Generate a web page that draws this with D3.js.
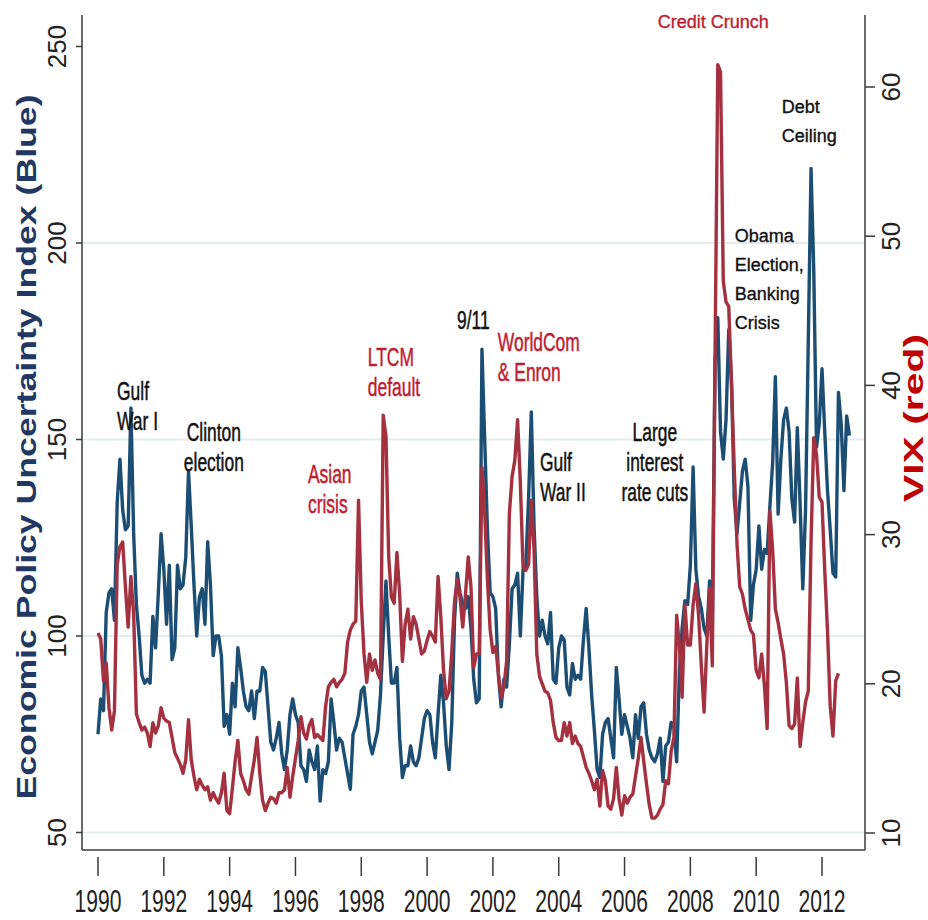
<!DOCTYPE html>
<html>
<head>
<meta charset="utf-8">
<script src="https://cdn.jsdelivr.net/npm/d3@7"></script>
<style>
  body { margin: 0; background: #fff; }
  svg text { font-family: "Liberation Sans", Arial, sans-serif; }
</style>
</head>
<body>
<div id="chart"></div>
<script>
// monthly series starting January 1990
const startYear = 1990;

const epu = [
  75, 84, 81, 106, 111, 112, 104, 134, 145, 132, 127, 128,
  158, 126, 108, 100, 90, 88, 89, 88, 105, 97, 111, 126,
  117, 103, 118, 94, 97, 118, 112, 113, 120, 142, 128, 113,
  100, 110, 112, 103, 124, 113, 95, 100, 100, 95, 77, 80,
  75, 88, 82, 97, 92, 86, 82, 81, 86, 79, 86, 86,
  92, 91, 82, 73, 71, 74, 78, 70, 66, 71, 80, 84,
  80, 78, 67, 66, 63, 71, 68, 66, 72, 58, 66, 65,
  68, 84, 78, 71, 74, 73, 69, 65, 61, 75, 77, 80,
  86, 87, 80, 73, 70, 73, 76, 85, 100, 114, 100, 88,
  88, 92, 74, 64, 67, 67, 72, 68, 67, 69, 74, 79,
  81, 80, 73, 69, 80, 90, 83, 72, 66, 78, 104, 116,
  111, 108, 107, 110, 102, 89, 83, 84, 173, 150, 127, 111,
  110, 107, 90, 82, 89, 87, 98, 112, 113, 116, 100, 117,
  118, 135, 157, 128, 110, 100, 104, 100, 98, 106, 89, 88,
  97, 100, 99, 87, 85, 93, 89, 90, 89, 99, 107, 97,
  85, 76, 66, 64, 75, 78, 79, 74, 69, 92, 84, 75,
  80, 77, 74, 69, 80, 74, 82, 83, 75, 71, 69, 68,
  70, 74, 63, 72, 73, 78, 77, 68, 91, 102, 109, 108,
  118, 143, 117, 110, 107, 102, 100, 114, 104, 170, 181, 152,
  145, 155, 178, 165, 135, 126, 134, 142, 145, 138, 104, 113,
  117, 128, 117, 122, 121, 133, 144, 166, 131, 145, 155, 158,
  152, 135, 129, 153, 134, 112, 132, 175, 219, 193, 148, 154,
  168, 152, 137, 127, 116, 115, 162, 154, 137, 156, 151
];

const vix = [
  23.4, 23.0, 20.2, 21.4, 18.4, 16.9, 18.2, 28.0, 29.2, 29.5, 26.5, 23.8,
  27.2, 24.7, 18.0, 17.4, 16.9, 17.1, 16.7, 15.8, 17.4, 16.7, 17.2, 18.4,
  17.7, 17.5, 17.4, 16.4, 15.4, 15.0, 14.6, 14.0, 14.9, 17.6, 14.9, 13.8,
  12.9, 13.6, 13.2, 12.9, 13.1, 12.2, 12.7, 12.3, 12.0, 12.7, 14.0, 11.5,
  11.3, 13.0, 14.8, 16.2, 14.0, 13.5, 12.9, 12.6, 13.8, 14.9, 16.4, 14.0,
  12.2, 11.5, 12.0, 12.4, 12.3, 12.0, 12.7, 12.7, 12.9, 14.4, 12.4, 13.8,
  15.0, 16.2, 17.8, 16.7, 16.3, 17.2, 17.6, 16.4, 16.6, 16.4, 16.2, 18.5,
  19.8, 20.1, 20.3, 19.8, 20.1, 20.3, 20.7, 22.8, 23.6, 24.0, 24.2, 32.3,
  25.5, 22.0, 20.1, 22.0, 20.9, 21.6, 20.7, 20.3, 38.0, 36.6, 28.5, 25.8,
  25.4, 28.8, 26.0, 21.5, 24.0, 25.0, 23.0, 24.5, 24.0, 23.0, 22.0, 22.2,
  22.9, 23.5, 23.2, 22.8, 27.2, 24.5, 20.9, 19.0, 19.5, 22.1, 25.5, 27.0,
  25.8, 23.8, 26.0, 28.5, 26.5, 21.1, 22.0, 22.0, 34.5, 31.5, 27.0, 23.6,
  22.1, 22.5, 20.7, 19.1, 19.8, 21.5, 31.4, 33.9, 35.0, 37.7, 33.5, 27.8,
  27.6, 28.0, 32.3, 29.0, 22.0, 20.5, 20.0, 19.5, 19.4, 18.9, 17.4, 16.4,
  16.2, 16.2, 17.4, 16.5, 17.4, 16.0, 16.5, 16.0, 15.8, 15.1, 14.4, 14.0,
  13.5, 12.9, 13.6, 11.8, 14.2, 13.5, 11.8, 11.6, 12.3, 14.4, 12.3, 11.2,
  12.5, 12.0, 12.4, 12.6, 13.8, 15.0, 16.4, 14.8, 13.3, 11.9, 11.0, 11.0,
  11.2, 11.6, 11.9, 13.5, 13.3, 15.5, 16.4, 24.6, 22.6, 19.1, 25.3, 22.6,
  22.6, 25.3, 26.7, 24.6, 21.2, 18.1, 22.6, 26.4, 21.2, 42.0, 61.5, 61.0,
  47.0, 45.6, 45.3, 40.0, 34.5, 29.4, 26.5, 26.0, 25.0, 24.3, 23.6, 23.3,
  20.9, 20.4, 22.0, 19.9, 17.0, 31.6, 29.0, 25.0, 24.1, 23.0, 22.0, 20.1,
  17.2, 17.0, 17.3, 20.4, 15.8, 17.4, 18.8, 19.5, 29.5, 36.5, 35.4, 32.5,
  32.2, 27.6, 23.6, 18.5, 16.5, 20.2, 20.7
];

const yearTicks = [1990, 1992, 1994, 1996, 1998, 2000, 2002, 2004, 2006, 2008, 2010, 2012];
const epuTicks = [50, 100, 150, 200, 250];
const vixTicks = [10, 20, 30, 40, 50, 60];
const gridTicks = [50, 100, 150, 200];

// annotation text, anchored at (year, EPU value)
const notes = [
  { lines: ["Gulf", "War I"], year: 1990.58, value: 160, kind: "narrow", color: "#111", anchor: "start" },
  { lines: ["Clinton", "election"], year: 1993.52, value: 149.6, kind: "narrow", color: "#111", anchor: "middle" },
  { lines: ["Asian", "crisis"], year: 1996.38, value: 139, kind: "narrow", color: "#c01c30", anchor: "start" },
  { lines: ["LTCM", "default"], year: 1998.2, value: 168.6, kind: "narrow", color: "#c01c30", anchor: "start" },
  { lines: ["9/11"], year: 2000.91, value: 178, kind: "narrow", color: "#111", anchor: "start" },
  { lines: ["WorldCom", "& Enron"], year: 2002.15, value: 172.4, kind: "narrow", color: "#c01c30", anchor: "start" },
  { lines: ["Gulf", "War II"], year: 2003.43, value: 142.1, kind: "narrow", color: "#111", anchor: "start" },
  { lines: ["Large", "interest", "rate cuts"], year: 2006.92, value: 149.6, kind: "narrow", color: "#111", anchor: "middle" },
  { lines: ["Credit Crunch"], year: 2007.01, value: 254.6, kind: "plain", color: "#c01c30", anchor: "start" },
  { lines: ["Debt", "Ceiling"], year: 2010.78, value: 233.2, kind: "plain", color: "#111", anchor: "start" },
  { lines: ["Obama", "Election,", "Banking", "Crisis"], year: 2009.35, value: 200.2, kind: "plain", color: "#111", anchor: "start" }
];

const width = 928, height = 920;
const plotLeft = 82, plotRight = 865, plotTop = 15, plotBottom = 850;

const svg = d3.select("#chart")
  .append("svg")
    .attr("width", width)
    .attr("height", height);

const x = d3.scaleLinear().domain([1990, 2012]).range([98, 822]);
const yL = d3.scaleLinear().domain([50, 250]).range([832.5, 46.5]);
const yR = d3.scaleLinear().domain([10, 60]).range([833, 87]);

// light horizontal grid
svg.append("g")
  .selectAll("line")
  .data(gridTicks)
  .join("line")
    .attr("x1", plotLeft).attr("x2", plotRight)
    .attr("y1", d => yL(d)).attr("y2", d => yL(d))
    .attr("stroke", "#e4ecee")
    .attr("stroke-width", 2);

// lines
const lineEpu = d3.line()
  .x((d, i) => x(startYear + i / 12))
  .y(d => yL(d));
const lineVix = d3.line()
  .x((d, i) => x(startYear + i / 12))
  .y(d => yR(d));

svg.append("path")
  .datum(epu)
  .attr("d", lineEpu)
  .attr("fill", "none")
  .attr("stroke", "#1c4e74")
  .attr("stroke-width", 3.4)
  .attr("stroke-linejoin", "round");

svg.append("path")
  .datum(vix)
  .attr("d", lineVix)
  .attr("fill", "none")
  .attr("stroke", "#a3313f")
  .attr("stroke-width", 3.4)
  .attr("stroke-linejoin", "round");

// axis frame
const axisColor = "#3a3a3a";
svg.append("line").attr("x1", plotLeft).attr("x2", plotLeft).attr("y1", plotTop).attr("y2", plotBottom)
  .attr("stroke", axisColor).attr("stroke-width", 1.5);
svg.append("line").attr("x1", plotRight).attr("x2", plotRight).attr("y1", plotTop).attr("y2", plotBottom)
  .attr("stroke", axisColor).attr("stroke-width", 1.5);
svg.append("line").attr("x1", plotLeft).attr("x2", plotRight).attr("y1", plotBottom).attr("y2", plotBottom)
  .attr("stroke", axisColor).attr("stroke-width", 1.5);

// left axis
const gl = svg.append("g");
gl.selectAll("line")
  .data(epuTicks)
  .join("line")
    .attr("x1", plotLeft - 6).attr("x2", plotLeft)
    .attr("y1", d => yL(d)).attr("y2", d => yL(d))
    .attr("stroke", axisColor).attr("stroke-width", 1.5);
gl.selectAll("text")
  .data(epuTicks)
  .join("text")
    .attr("transform", d => `translate(66,${yL(d)}) rotate(-90)`)
    .attr("text-anchor", "middle")
    .style("font-size", "26px")
    .style("fill", "#222")
    .text(d => d);

// right axis
const gr = svg.append("g");
gr.selectAll("line")
  .data(vixTicks)
  .join("line")
    .attr("x1", plotRight).attr("x2", plotRight + 10)
    .attr("y1", d => yR(d)).attr("y2", d => yR(d))
    .attr("stroke", axisColor).attr("stroke-width", 1.5);
gr.selectAll("text")
  .data(vixTicks)
  .join("text")
    .attr("transform", d => `translate(900,${yR(d)}) rotate(-90)`)
    .attr("text-anchor", "middle")
    .style("font-size", "26px")
    .style("fill", "#222")
    .text(d => d);

// bottom axis
const gb = svg.append("g");
gb.selectAll("line")
  .data(yearTicks)
  .join("line")
    .attr("x1", d => x(d)).attr("x2", d => x(d))
    .attr("y1", 857).attr("y2", 876)
    .attr("stroke", axisColor).attr("stroke-width", 1.5);
gb.selectAll("text")
  .data(yearTicks)
  .join("text")
    .attr("transform", d => `translate(${x(d)},912) scale(0.68,1)`)
    .attr("text-anchor", "middle")
    .style("font-size", "31px")
    .style("fill", "#222")
    .text(d => d);

// axis titles
svg.append("text")
  .attr("transform", "translate(36,447) rotate(-90)")
  .attr("text-anchor", "middle")
  .attr("textLength", 705)
  .attr("lengthAdjust", "spacingAndGlyphs")
  .style("font-size", "28px")
  .style("font-weight", "bold")
  .style("fill", "#1f3864")
  .text("Economic Policy Uncertainty Index (Blue)");

svg.append("text")
  .attr("transform", "translate(923,418) rotate(-90)")
  .attr("text-anchor", "middle")
  .attr("textLength", 168)
  .attr("lengthAdjust", "spacingAndGlyphs")
  .style("font-size", "28px")
  .style("font-weight", "bold")
  .style("fill", "#c00000")
  .text("VIX (red)");

// annotations
notes.forEach(function(n) {
  const narrow = n.kind === "narrow";
  const g = svg.append("g")
    .attr("transform", `translate(${x(n.year)},${yL(n.value)})` + (narrow ? " scale(0.67,1)" : ""));
  const t = g.append("text")
    .attr("text-anchor", n.anchor)
    .style("font-size", narrow ? "26px" : "18px")
    .style("fill", n.color)
    .style("stroke", n.color)
    .style("stroke-width", narrow ? 0.5 : 0.35);
  n.lines.forEach(function(s, i) {
    t.append("tspan")
      .attr("x", 0)
      .attr("dy", i === 0 ? 0 : (narrow ? 30 : 29))
      .text(s);
  });
});
</script>
</body>
</html>
